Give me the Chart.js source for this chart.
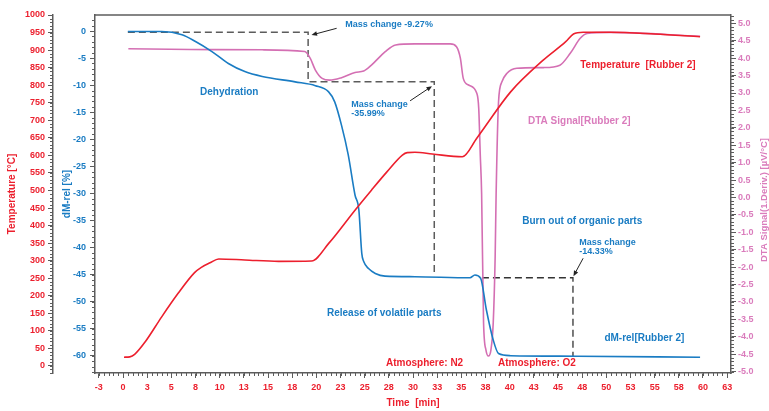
<!DOCTYPE html>
<html>
<head>
<meta charset="utf-8">
<script src="https://cdn.jsdelivr.net/npm/chart.js@4.4.0/dist/chart.umd.min.js"></script>
<style>
  html, body { margin: 0; padding: 0; background: #fff; }
</style>
</head>
<body>
<canvas id="tga" width="769" height="411"></canvas>
<script>
// Temperature [Rubber 2]
const tempTime   = [0.1, 0.7, 1.2, 2.3, 4.0, 5.7, 7.4, 8.1, 9.0, 9.9, 12.6, 16.1, 19.5, 21.3, 24.0, 25.7, 27.3, 28.9, 29.4, 30.2, 32.0, 35.1, 36.6, 40.1, 43.5, 45.8, 46.6, 47.6, 50.4, 55.0, 59.7];
const tempValues = [25, 26, 33, 69, 140, 207, 266, 281, 294, 305, 302, 298, 299, 350, 444, 501, 553, 601, 608, 609, 604, 596, 649, 781, 872, 924, 946, 951, 951, 946, 938];

// dM-rel [Rubber 2]
const massTime   = [0.5, 4.0, 6.1, 7.45, 9.2, 10.9, 12.6, 14.4, 17.8, 19.9, 21.25, 21.9, 22.6, 23.3, 24.0, 24.4, 24.7, 24.9, 25.4, 26.1, 27.1, 30.2, 35.9, 36.4, 37.0, 37.6, 38.3, 38.85, 40.1, 47.0, 59.7];
const massValues = [-0.1, -0.1, -0.7, -1.9, -3.8, -6.0, -7.5, -8.4, -9.4, -10.1, -11.2, -13.1, -17.4, -22.9, -30.3, -33.1, -41.1, -42.6, -43.9, -44.8, -45.3, -45.4, -45.6, -45.1, -45.7, -51.6, -57.1, -59.6, -60.0, -60.1, -60.3];

// DTA Signal [Rubber 2]
const dtaTime   = [0.55, 7.0, 14.4, 18.8, 19.36, 19.9, 20.6, 21.4, 22.6, 24.0, 24.9, 25.7, 27.1, 28.2, 30.2, 33.85, 34.5, 34.9, 35.2, 35.75, 36.6, 36.8, 36.96, 37.1, 37.3, 37.55, 37.8, 38.06, 38.3, 38.5, 38.6, 38.85, 39.2, 39.7, 40.75, 43.5, 45.2, 46.27, 47.3, 48.0, 50.4, 59.7];
const dtaValues = [4.27, 4.25, 4.24, 4.19, 4.0, 3.66, 3.42, 3.37, 3.44, 3.59, 3.63, 3.80, 4.18, 4.38, 4.41, 4.41, 4.33, 4.0, 3.42, 3.23, 2.99, 2.56, 1.22, 0.1, -3.6, -4.38, -4.55, -4.38, -3.6, -1.7, 0.1, 2.75, 3.32, 3.56, 3.71, 3.73, 3.80, 4.14, 4.57, 4.71, 4.74, 4.63];

// mass change steps (dashed guides)
const stepATime   = [0.5, 19.15, 19.15, 32.2, 32.2];
const stepAValues = [-0.24, -0.24, -9.36, -9.36, -44.7];
const stepBTime   = [37.13, 46.55, 46.55];
const stepBValues = [-45.6, -45.6, -60.1];

// x axis tick labels
const xTickValues = [-2.5, 0, 2.5, 5, 7.5, 10, 12.5, 15, 17.5, 20, 22.5, 25, 27.5, 30, 32.5, 35, 37.5, 40, 42.5, 45, 47.5, 50, 52.5, 55, 57.5, 60, 62.5];
const xTickLabels = ['-3', '0', '3', '5', '8', '10', '13', '15', '18', '20', '23', '25', '28', '30', '33', '35', '38', '40', '43', '45', '48', '50', '53', '55', '58', '60', '63'];

const RED = '#ec1f2d';
const BLUE = '#1a7cc3';
const PINK = '#d46fb3';
const PINK_TEXT = '#da7cbc';
const GRAY = '#5c5c5c';
const FONT = "'Liberation Sans', Arial, sans-serif";

function toPoints(xs, ys) {
    return xs.map((x, i) => ({x: x, y: ys[i]}));
}

// text notes placed in axis units
const notes = [
    {text: ['Dehydration'], x: 7.97, y: -11.4, axis: 'yM', color: BLUE, size: 10},
    {text: ['Release of volatile parts'], x: 21.1, y: -52.2, axis: 'yM', color: BLUE, size: 10},
    {text: ['Burn out of organic parts'], x: 41.3, y: -35.2, axis: 'yM', color: BLUE, size: 10},
    {text: ['dM-rel[Rubber 2]'], x: 49.8, y: -56.8, axis: 'yM', color: BLUE, size: 10},
    {text: ['Atmosphere: N2'], x: 27.2, y: -61.4, axis: 'yM', color: RED, size: 10},
    {text: ['Atmosphere: O2'], x: 38.8, y: -61.4, axis: 'yM', color: RED, size: 10},
    {text: ['Temperature  [Rubber 2]'], x: 47.3, y: 857, axis: 'yT', color: RED, size: 10},
    {text: ['DTA Signal[Rubber 2]'], x: 41.9, y: 2.18, axis: 'yD', color: PINK_TEXT, size: 10},
    {text: ['Mass change -9.27%'], x: 23.0, y: 1.29, axis: 'yM', color: BLUE, size: 9},
    {text: ['Mass change', '-35.99%'], x: 23.6, y: -13.5, axis: 'yM', color: BLUE, size: 9},
    {text: ['Mass change', '-14.33%'], x: 47.2, y: -39.1, axis: 'yM', color: BLUE, size: 9}
];

const arrows = [
    {from: [22.1, 0.5], to: [19.5, -0.74]},
    {from: [29.7, -12.9], to: [31.96, -10.2]},
    {from: [47.6, -42.0], to: [46.6, -45.3]}
];

const minorSteps = {x: 0.5, yT: 10, yM: 1, yD: 0.1};

const minorTicks = {
    id: 'minorTicks',
    afterDraw(chart) {
        const ctx = chart.ctx;
        ctx.save();
        ctx.strokeStyle = GRAY;
        ctx.lineWidth = 1;
        for (const id in minorSteps) {
            const s = chart.scales[id];
            const step = minorSteps[id];
            const first = Math.ceil(s.min / step - 1e-6);
            const last = Math.floor(s.max / step + 1e-6);
            for (let k = first; k <= last; k++) {
                const p = Math.round(s.getPixelForValue(k * step)) + 0.5;
                ctx.beginPath();
                if (id === 'x') {
                    ctx.moveTo(p, s.top);
                    ctx.lineTo(p, s.top + 3);
                } else if (s.position === 'left') {
                    ctx.moveTo(s.right, p);
                    ctx.lineTo(s.right - 3, p);
                } else {
                    ctx.moveTo(s.left, p);
                    ctx.lineTo(s.left + 3, p);
                }
                ctx.stroke();
            }
        }
        // top frame line
        const a = chart.chartArea;
        ctx.lineWidth = 1.5;
        ctx.beginPath();
        ctx.moveTo(a.left, a.top);
        ctx.lineTo(a.right, a.top);
        ctx.stroke();

        // right axis title, reads bottom to top
        ctx.fillStyle = PINK_TEXT;
        ctx.font = 'bold 9.5px ' + FONT;
        ctx.textAlign = 'center';
        ctx.textBaseline = 'middle';
        ctx.translate(764, (a.top + a.bottom) / 2 + 6);
        ctx.rotate(-Math.PI / 2);
        ctx.fillText('DTA Signal(1.Deriv.) [\u00b5V/\u00b0C]', 0, 0);
        ctx.restore();
    }
};

const notesPlugin = {
    id: 'notes',
    afterDatasetsDraw(chart) {
        const ctx = chart.ctx;
        const xs = chart.scales.x;
        ctx.save();
        ctx.textAlign = 'left';
        ctx.textBaseline = 'middle';
        for (const n of notes) {
            const px = xs.getPixelForValue(n.x);
            const py = chart.scales[n.axis].getPixelForValue(n.y);
            ctx.fillStyle = n.color;
            ctx.font = 'bold ' + n.size + 'px ' + FONT;
            n.text.forEach((line, i) => ctx.fillText(line, px, py + i * 9));
        }
        const ys = chart.scales.yM;
        ctx.strokeStyle = '#222';
        ctx.fillStyle = '#222';
        ctx.lineWidth = 1;
        for (const ar of arrows) {
            const x0 = xs.getPixelForValue(ar.from[0]), y0 = ys.getPixelForValue(ar.from[1]);
            const x1 = xs.getPixelForValue(ar.to[0]), y1 = ys.getPixelForValue(ar.to[1]);
            const ang = Math.atan2(y1 - y0, x1 - x0);
            ctx.beginPath();
            ctx.moveTo(x0, y0);
            ctx.lineTo(x1 - 4 * Math.cos(ang), y1 - 4 * Math.sin(ang));
            ctx.stroke();
            ctx.beginPath();
            ctx.moveTo(x1, y1);
            ctx.lineTo(x1 - 6 * Math.cos(ang - 0.4), y1 - 6 * Math.sin(ang - 0.4));
            ctx.lineTo(x1 - 6 * Math.cos(ang + 0.4), y1 - 6 * Math.sin(ang + 0.4));
            ctx.closePath();
            ctx.fill();
        }
        ctx.restore();
    }
};

function axisGrid() {
    return {display: true, drawOnChartArea: false, drawTicks: true, tickLength: 5, tickColor: GRAY, tickWidth: 1};
}
function axisBorder() {
    return {display: true, color: GRAY, width: 1.5};
}
function keepTicks(step, lo, hi) {
    return axis => {
        const out = [];
        for (let k = Math.round(lo / step); k <= Math.round(hi / step); k++) out.push({value: k * step});
        axis.ticks = out;
    };
}

const ctx = document.getElementById('tga').getContext('2d');
let tgaChart = new Chart(ctx, {
    type: 'line',
    data: {
        datasets: [{
            label: 'Temperature [Rubber 2]',
            data: toPoints(tempTime, tempValues),
            yAxisID: 'yT',
            borderColor: RED,
            borderWidth: 1.6,
            pointRadius: 0,
            cubicInterpolationMode: 'monotone'
        }, {
            label: 'dM-rel[Rubber 2]',
            data: toPoints(massTime, massValues),
            yAxisID: 'yM',
            borderColor: BLUE,
            borderWidth: 1.6,
            pointRadius: 0,
            cubicInterpolationMode: 'monotone'
        }, {
            label: 'DTA Signal[Rubber 2]',
            data: toPoints(dtaTime, dtaValues),
            yAxisID: 'yD',
            borderColor: PINK,
            borderWidth: 1.6,
            pointRadius: 0,
            cubicInterpolationMode: 'monotone'
        }, {
            label: 'step A',
            data: toPoints(stepATime, stepAValues),
            yAxisID: 'yM',
            borderColor: GRAY,
            borderWidth: 1.5,
            borderDash: [7, 4],
            pointRadius: 0,
            tension: 0
        }, {
            label: 'step B',
            data: toPoints(stepBTime, stepBValues),
            yAxisID: 'yM',
            borderColor: '#333',
            borderWidth: 1.3,
            borderDash: [7, 4],
            pointRadius: 0,
            tension: 0
        }]
    },
    options: {
        responsive: false,
        animation: false,
        layout: {padding: {top: 15, left: 0, right: 0, bottom: 0}},
        plugins: {legend: {display: false}, tooltip: {enabled: false}},
        scales: {
            x: {
                type: 'linear',
                position: 'bottom',
                min: -2.9,
                max: 62.9,
                afterBuildTicks: axis => { axis.ticks = xTickValues.map(v => ({value: v})); },
                afterFit: axis => { axis.height = 38; },
                grid: axisGrid(),
                border: axisBorder(),
                ticks: {
                    autoSkip: false, maxRotation: 0, padding: 4, color: RED,
                    font: {family: FONT, size: 9, weight: 'bold'},
                    callback: (v, i) => xTickLabels[i]
                },
                title: {display: true, text: 'Time  [min]', color: RED, padding: {top: 0, bottom: 2},
                    font: {family: FONT, size: 10, weight: 'bold'}}
            },
            yM: {
                type: 'linear',
                position: 'left',
                weight: 0,
                min: -63.2,
                max: 2.96,
                afterBuildTicks: keepTicks(5, -60, 0),
                afterFit: axis => { axis.width = 42; },
                grid: axisGrid(),
                border: axisBorder(),
                ticks: {autoSkip: false, padding: 4, color: BLUE, font: {family: FONT, size: 9, weight: 'bold'},
                    callback: v => String(v)},
                title: {display: true, text: 'dM-rel [%]', color: BLUE, padding: {top: 8, bottom: 0},
                    font: {family: FONT, size: 10, weight: 'bold'}}
            },
            yT: {
                type: 'linear',
                position: 'left',
                weight: 1,
                min: -20,
                max: 1000,
                afterBuildTicks: keepTicks(50, 0, 1000),
                afterFit: axis => { axis.width = 53; },
                grid: axisGrid(),
                border: axisBorder(),
                ticks: {autoSkip: false, padding: 3, color: RED, font: {family: FONT, size: 9, weight: 'bold'},
                    callback: v => String(v)},
                title: {display: true, text: 'Temperature [\u00b0C]', color: RED, padding: {top: 6, bottom: 0},
                    font: {family: FONT, size: 10, weight: 'bold'}}
            },
            yD: {
                type: 'linear',
                position: 'right',
                min: -5.04,
                max: 5.24,
                afterBuildTicks: keepTicks(0.5, -5, 5),
                afterFit: axis => { axis.width = 38; },
                grid: axisGrid(),
                border: axisBorder(),
                ticks: {
                    autoSkip: false, padding: 2, color: PINK_TEXT,
                    font: {family: FONT, size: 9, weight: 'bold'},
                    callback: v => v.toFixed(1)
                }
            }
        }
    },
    plugins: [minorTicks, notesPlugin]
});
</script>
</body>
</html>
